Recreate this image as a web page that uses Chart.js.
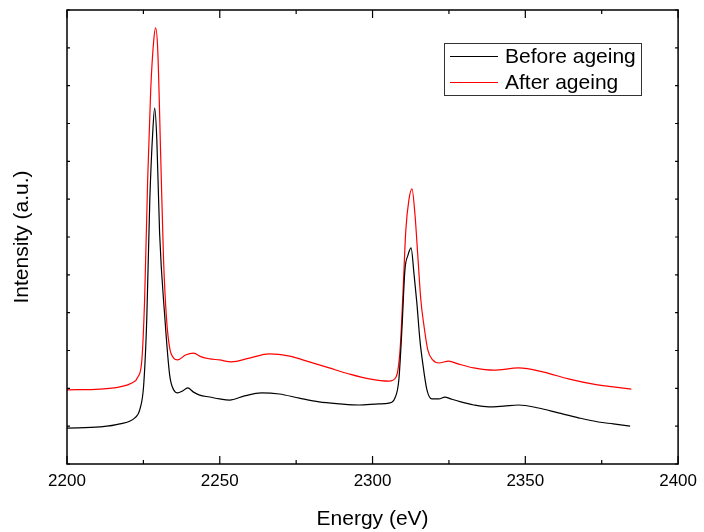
<!DOCTYPE html>
<html>
<head>
<meta charset="utf-8">
<script src="https://cdn.jsdelivr.net/npm/chart.js@4.4.1/dist/chart.umd.min.js"></script>
<style>
  html, body { margin: 0; padding: 0; background: #fff; }
  #wrap { width: 704px; height: 532px; }
</style>
</head>
<body>
<div id="wrap"><canvas id="spectrumChart" width="704" height="532"></canvas></div>
<script>
// --- DATA ---
const beforeEnergy = [2200, 2210.8, 2217.3, 2222.2, 2223.8, 2225.1, 2226.1, 2227.1, 2228.1, 2228.7, 2229.4, 2230.3, 2232.0, 2233.6, 2234.9, 2236.2, 2237.8, 2239.5, 2241.4, 2243.4, 2246.7, 2249.9, 2253.2, 2258.1, 2263.6, 2269.5, 2276.0, 2282.5, 2289.1, 2295.6, 2302.1, 2305.4, 2307.3, 2308.6, 2309.6, 2310.6, 2311.6, 2312.6, 2313.6, 2314.5, 2315.5, 2316.5, 2317.8, 2319.4, 2321.7, 2323.7, 2325.6, 2328.9, 2333.1, 2338.0, 2342.9, 2347.8, 2354.3, 2360.8, 2367.4, 2373.9, 2378.8, 2384.3];
const beforeValue = [0.95, 0.98, 1.06, 1.22, 1.43, 2.09, 3.81, 6.98, 8.83, 9.41, 8.57, 6.11, 3.89, 2.35, 1.96, 1.88, 1.93, 2.01, 1.90, 1.82, 1.77, 1.72, 1.69, 1.80, 1.88, 1.85, 1.74, 1.64, 1.59, 1.56, 1.59, 1.61, 1.74, 2.22, 3.54, 5.13, 5.52, 5.71, 5.00, 4.26, 3.28, 2.62, 1.96, 1.72, 1.72, 1.77, 1.72, 1.64, 1.56, 1.51, 1.53, 1.56, 1.48, 1.35, 1.22, 1.11, 1.06, 1.00];

const afterEnergy = [2200, 2210.8, 2217.3, 2221.2, 2223.2, 2224.5, 2225.4, 2226.4, 2227.4, 2228.4, 2229.0, 2229.7, 2230.7, 2231.6, 2232.6, 2233.6, 2234.9, 2236.2, 2238.8, 2241.4, 2244.0, 2246.7, 2249.9, 2253.8, 2259.7, 2266.2, 2272.8, 2279.3, 2285.8, 2292.3, 2298.9, 2305.4, 2307.7, 2309.0, 2310.0, 2310.9, 2311.9, 2312.9, 2313.9, 2314.8, 2315.8, 2316.8, 2318.1, 2319.7, 2321.7, 2324.9, 2328.2, 2333.1, 2339.6, 2347.8, 2356.0, 2364.1, 2372.3, 2378.8, 2384.7];
const afterValue = [1.96, 1.98, 2.04, 2.14, 2.30, 2.75, 4.34, 7.51, 9.89, 11.21, 11.53, 10.94, 8.04, 5.39, 3.81, 3.07, 2.80, 2.75, 2.88, 2.93, 2.83, 2.78, 2.75, 2.70, 2.80, 2.91, 2.85, 2.70, 2.54, 2.38, 2.25, 2.19, 2.30, 3.01, 4.60, 6.19, 6.98, 7.27, 6.58, 5.52, 4.34, 3.67, 3.01, 2.75, 2.67, 2.72, 2.64, 2.54, 2.48, 2.54, 2.43, 2.25, 2.11, 2.04, 1.98];

const seriesLabels = ['Before ageing', 'After ageing'];
const seriesColors = ['#000000', '#ff0000'];
const xTicks = [2200, 2250, 2300, 2350, 2400];
const xMinorTicks = [2225, 2275, 2325, 2375];
const yTicks = [0, 1, 2, 3, 4, 5, 6, 7, 8, 9, 10, 11, 12];

const FONT = '"Liberation Sans", Arial, sans-serif';
const toPoints = (xs, ys) => xs.map((x, i) => ({ x: x, y: ys[i] }));

// --- FRAME, INWARD TICKS AND LEGEND ---
const framePlugin = {
    id: 'frame',
    afterDatasetsDraw(chart) {
        const { ctx, chartArea: a, scales } = chart;
        const xs = scales.x, ys = scales.y;
        ctx.save();
        ctx.strokeStyle = '#000';
        ctx.lineWidth = 1.5;
        ctx.strokeRect(a.left, a.top, a.right - a.left, a.bottom - a.top);

        ctx.lineWidth = 1.2;
        ctx.beginPath();
        xTicks.forEach(v => {
            const px = xs.getPixelForValue(v);
            ctx.moveTo(px, a.bottom); ctx.lineTo(px, a.bottom - 8);
            ctx.moveTo(px, a.top); ctx.lineTo(px, a.top + 8);
        });
        xMinorTicks.forEach(v => {
            const px = xs.getPixelForValue(v);
            ctx.moveTo(px, a.bottom); ctx.lineTo(px, a.bottom - 4);
            ctx.moveTo(px, a.top); ctx.lineTo(px, a.top + 4);
        });
        yTicks.forEach(v => {
            const py = ys.getPixelForValue(v);
            ctx.moveTo(a.left, py); ctx.lineTo(a.left + 3, py);
            ctx.moveTo(a.right, py); ctx.lineTo(a.right - 3, py);
        });
        ctx.stroke();

        // legend box
        const bx = 444, by = 43, bw = 197, bh = 52;
        ctx.fillStyle = '#fff';
        ctx.fillRect(bx, by, bw, bh);
        ctx.strokeStyle = '#333';
        ctx.lineWidth = 1;
        ctx.strokeRect(bx + 0.5, by + 0.5, bw, bh);
        ctx.font = '21px ' + FONT;
        ctx.textBaseline = 'middle';
        seriesLabels.forEach((lbl, i) => {
            const ly = by + 13.5 + i * 26;
            ctx.strokeStyle = seriesColors[i];
            ctx.beginPath();
            ctx.moveTo(bx + 6, ly); ctx.lineTo(bx + 54, ly);
            ctx.stroke();
            ctx.fillStyle = '#000';
            ctx.fillText(lbl, bx + 61, ly + 1);
        });
        ctx.restore();
    }
};

const ctx = document.getElementById('spectrumChart').getContext('2d');
new Chart(ctx, {
    type: 'line',
    data: {
        datasets: [
            {
                label: seriesLabels[0],
                data: toPoints(beforeEnergy, beforeValue),
                borderColor: seriesColors[0],
                borderWidth: 1.2,
                pointRadius: 0,
                cubicInterpolationMode: 'monotone',
                fill: false
            },
            {
                label: seriesLabels[1],
                data: toPoints(afterEnergy, afterValue),
                borderColor: seriesColors[1],
                borderWidth: 1.2,
                pointRadius: 0,
                cubicInterpolationMode: 'monotone',
                fill: false
            }
        ]
    },
    options: {
        responsive: false,
        animation: false,
        events: [],
        layout: { padding: { top: 10, right: 22, left: 0, bottom: 0 } },
        plugins: {
            legend: { display: false },
            tooltip: { enabled: false }
        },
        scales: {
            x: {
                type: 'linear',
                min: 2200,
                max: 2400,
                afterBuildTicks: (scale) => { scale.ticks = xTicks.map(v => ({ value: v })); },
                afterFit: (scale) => { scale.height = 68; },
                grid: { display: false, drawTicks: false },
                border: { display: false },
                ticks: {
                    color: '#000',
                    padding: 7,
                    callback: (v) => String(v),
                    font: { family: FONT, size: 17 }
                },
                title: {
                    display: true,
                    text: 'Energy (eV)',
                    color: '#000',
                    padding: { top: 3, bottom: 0 },
                    font: { family: FONT, size: 21 }
                }
            },
            y: {
                type: 'linear',
                min: 0,
                max: 12,
                afterBuildTicks: (scale) => { scale.ticks = yTicks.map(v => ({ value: v })); },
                afterFit: (scale) => { scale.width = 67; },
                grid: { display: false, drawTicks: false },
                border: { display: false },
                ticks: { display: false },
                title: {
                    display: true,
                    text: 'Intensity (a.u.)',
                    color: '#000',
                    padding: { top: 10, bottom: 0 },
                    font: { family: FONT, size: 21 }
                }
            }
        }
    },
    plugins: [framePlugin]
});
</script>
</body>
</html>
